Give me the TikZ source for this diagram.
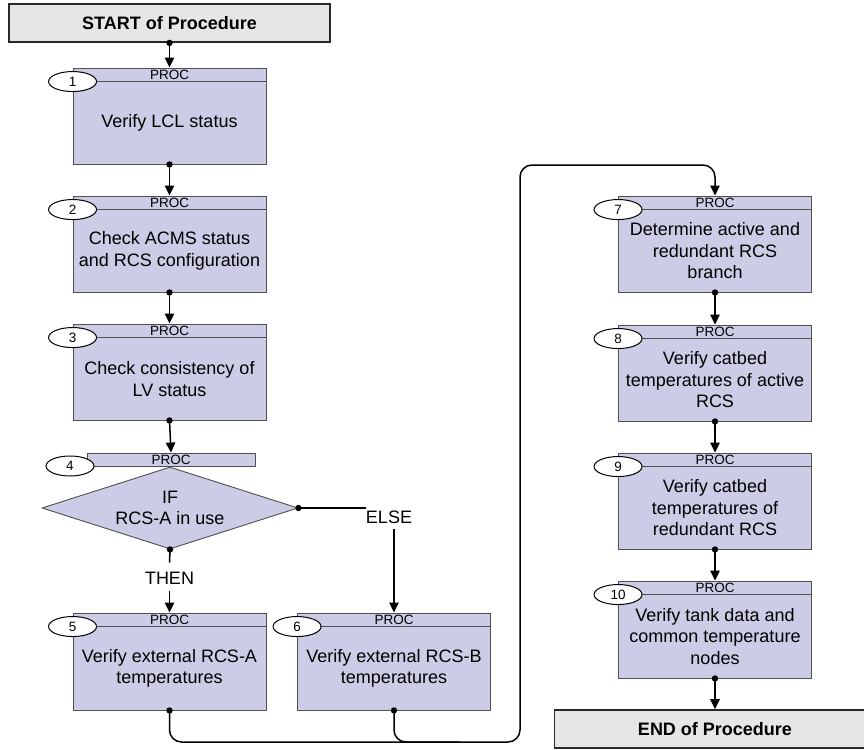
\documentclass[tikz,border=0pt]{standalone}
\usepackage{fontspec}
\setmainfont{Liberation Sans}
\usetikzlibrary{arrows.meta,shapes.geometric}
\definecolor{procfill}{RGB}{204,204,230}
\definecolor{procdraw}{RGB}{80,80,80}
\definecolor{termfill}{RGB}{230,230,230}
\definecolor{termdraw}{RGB}{40,40,40}
\tikzset{
  procbox/.style={draw=procdraw, fill=procfill, line width=0.9pt, minimum width=193pt, inner sep=0pt},
  hdrline/.style={draw=procdraw, line width=0.9pt},
  proclbl/.style={font=\fontsize{13.5}{14}\selectfont, anchor=base, inner sep=0pt},
  numell/.style={ellipse, draw=black, fill=white, line width=1pt, minimum width=48pt, minimum height=20pt, inner sep=0pt, font=\fontsize{13.5}{14}\selectfont},
  bodytext/.style={font=\fontsize{18}{21.5}\selectfont, align=center, inner sep=0pt},
  termbox/.style={draw=termdraw, fill=termfill, line width=1.8pt, minimum width=321pt, minimum height=38pt, inner sep=0pt, font=\fontsize{18}{21.5}\selectfont\bfseries},
  conn/.style={draw=black, line width=1.5pt},
  arr/.style={conn, -{Triangle[length=10pt,width=9.5pt]}},
  lbl/.style={font=\fontsize{18}{21.5}\selectfont, inner sep=0pt}
}
\begin{document}
\begin{tikzpicture}[x=1pt,y=-1pt]
\useasboundingbox[fill=white] (0,0) rectangle (864,749);
\clip (0,0) rectangle (864,749);

% terminals
\node[termbox] (start) at (169.5,23) {START of Procedure};
\node[termbox] (end) at (715,729) {END of Procedure};

% process boxes
\node[procbox, minimum height=96pt] (b1) at (169.5,116) {};
\node[procbox, minimum height=96pt] (b2) at (169.5,244) {};
\node[procbox, minimum height=96pt] (b3) at (169.5,372) {};
\node[procbox, minimum height=97pt] (b5) at (169.5,661.5) {};
\node[procbox, minimum height=97pt] (b6) at (394,661.5) {};
\node[procbox, minimum height=96pt] (b7) at (715,244) {};
\node[procbox, minimum height=96pt] (b8) at (715,373) {};
\node[procbox, minimum height=96pt] (b9) at (715,501) {};
\node[procbox, minimum height=97pt] (b10) at (715,629.5) {};

\foreach \b in {b1,b2,b3,b5,b6,b7,b8,b9,b10}{
  \draw[hdrline] ([yshift=-14pt]\b.north west) -- ([yshift=-14pt]\b.north east);
  \node[proclbl] at ([yshift=-12pt]\b.north) {PROC};
}

% decision
\node[procbox, minimum width=168pt, minimum height=13pt] (b4) at (171,459.5) {};
\node[proclbl] at ([yshift=-12pt]b4.north) {PROC};
\node[diamond, draw=procdraw, fill=procfill, line width=0.9pt, minimum width=256pt, minimum height=82pt, inner sep=0pt] (d) at (170,508) {};
\node[bodytext] (dt) at (170,508) {IF\\RCS-A in use};

% body texts
\node[bodytext] (t1) at (169.5,123) {Verify LCL status};
\node[bodytext] (t2) at (169.5,251) {Check ACMS status\\and RCS configuration};
\node[bodytext] (t3) at (169.5,379) {Check consistency of\\LV status};
\node[bodytext] (t5) at (169.5,668.5) {Verify external RCS-A\\temperatures};
\node[bodytext] (t6) at (394,668.5) {Verify external RCS-B\\temperatures};
\node[bodytext] (t7) at (715,251) {Determine active and\\redundant RCS\\branch};
\node[bodytext] (t8) at (715,380) {Verify catbed\\temperatures of active\\RCS};
\node[bodytext] (t9) at (715,508) {Verify catbed\\temperatures of\\redundant RCS};
\node[bodytext] (t10) at (715,636.5) {Verify tank data and\\common temperature\\nodes};

% number ellipses
\node[numell] (n1) at ([yshift=-14pt]b1.north west) {1};
\node[numell] (n2) at ([yshift=-14pt]b2.north west) {2};
\node[numell] (n3) at ([yshift=-14pt]b3.north west) {3};
\node[numell] (n4) at (70,466) {4};
\node[numell] (n5) at ([yshift=-14pt]b5.north west) {5};
\node[numell] (n6) at ([yshift=-14pt]b6.north west) {6};
\node[numell] (n7) at ([yshift=-14pt]b7.north west) {7};
\node[numell] (n8) at ([yshift=-14pt]b8.north west) {8};
\node[numell] (n9) at ([yshift=-14pt]b9.north west) {9};
\node[numell] (n10) at ([yshift=-14pt]b10.north west) {10};

% labels
\node[lbl] (then) at (169.5,578) {THEN};
\node[lbl] (else) at (389,517.5) {ELSE};
\coordinate (elseend) at (366,508);
\coordinate (c0) at (460,742);
\coordinate (c1) at (520,742);
\coordinate (c2) at (520,165);

% connectors
\draw[arr] (start.south) -- (b1.north);
\draw[arr] (b1.south) -- (b2.north);
\draw[arr] (b2.south) -- (b3.north);
\draw[arr] (b3.south) -- (b4.north);
\draw[conn] (d.south) -- ([yshift=9pt]then.north);
\draw[arr] ([yshift=-7pt]then.south) -- (b5.north);
\draw[conn] (d.east) -- (elseend);
\draw[arr] ([yshift=-5pt]b6.north |- else.south) -- (b6.north);
\draw[arr, rounded corners=12pt] (b5.south) |- (c1) -- (c2) -| (b7.north);
\draw[conn, rounded corners=12pt] (b6.south) |- (c0);
\draw[arr] (b7.south) -- (b8.north);
\draw[arr] (b8.south) -- (b9.north);
\draw[arr] (b9.south) -- (b10.north);
\draw[arr] (b10.south) -- (end.north);

% dots
\foreach \p in {start.south,b1.south,b2.south,b3.south,d.south,d.east,b5.south,b6.south,b7.south,b8.south,b9.south,b10.south}{
  \fill[black] (\p) circle[radius=3.2pt];
}
\end{tikzpicture}
\end{document}
